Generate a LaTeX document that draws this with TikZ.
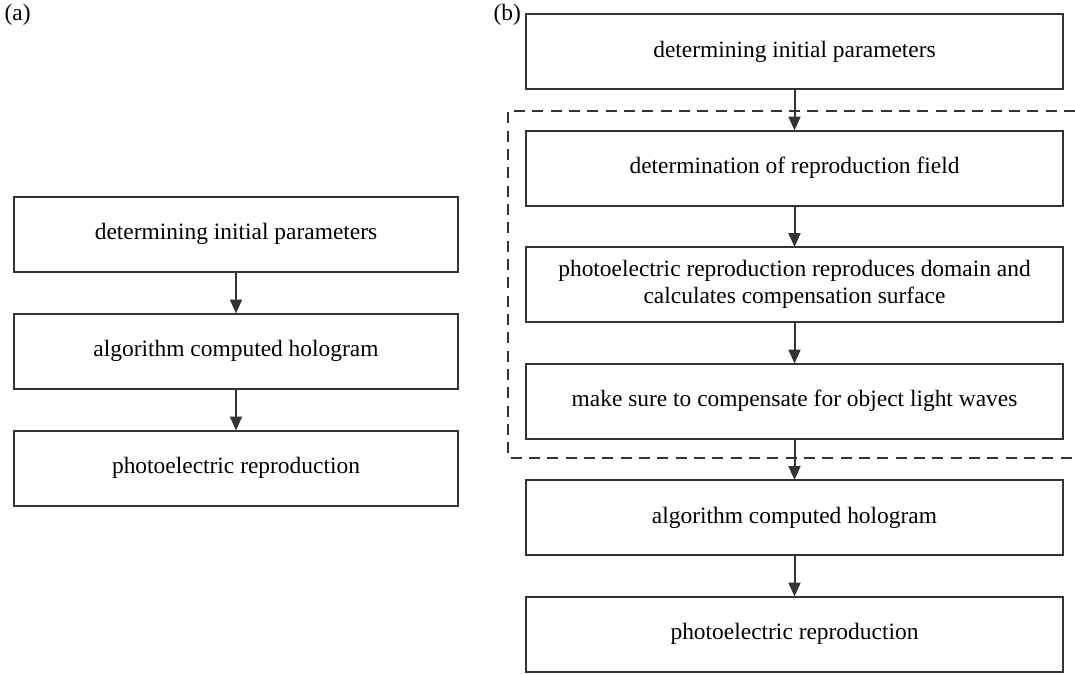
\documentclass[tikz,border=0pt]{standalone}
\usepackage{fontspec}
\setmainfont{Liberation Serif}
\usepackage{xcolor}
\usepackage{tikz}
\usetikzlibrary{arrows.meta, positioning}
\definecolor{linegray}{HTML}{333333}

\begin{document}
\begin{tikzpicture}[x=0.03cm, y=-0.03cm, >={Triangle[length=0.42cm, width=0.36cm]},
    every node/.style={font=\fontsize{20}{22.5}\selectfont, text=black},
    boxA/.style={draw=linegray, line width=0.06cm, minimum width=13.32cm, minimum height=2.25cm, outer sep=0pt},
    boxB/.style={draw=linegray, line width=0.06cm, minimum width=16.11cm, minimum height=2.25cm, outer sep=0pt, align=center},
    flow/.style={->, draw=linegray, line width=0.06cm}]
        \useasboundingbox (0,0) rectangle (1075,674);
        % (a) plain procedure
        \node[anchor=north west, inner sep=2pt] (labA) at (2,2) {(a)};
        \node[boxA] (initA) at (236,234) {determining initial parameters};
        \node[boxA, below=1.26cm of initA] (holoA) {algorithm computed hologram};
        \node[boxA, below=1.26cm of holoA] (reproA) {photoelectric reproduction};
        \draw[flow] (initA) -- (holoA);
        \draw[flow] (holoA) -- (reproA);
        % (b) with compensation steps
        \node[anchor=north west, inner sep=2pt] (labB) at (491,2) {(b)};
        \node[boxB] (initB) at (794.5,51.5) {determining initial parameters};
        \node[boxB, below=1.245cm of initB] (fieldB) {determination of reproduction field};
        \node[boxB, below=1.245cm of fieldB] (surfB) {photoelectric reproduction reproduces domain and\\calculates compensation surface};
        \node[boxB, below=1.245cm of surfB] (compB) {make sure to compensate for object light waves};
        \node[boxB, below=1.245cm of compB] (holoB) {algorithm computed hologram};
        \node[boxB, below=1.245cm of holoB] (reproB) {photoelectric reproduction};
        \foreach \s/\t in {initB/fieldB, fieldB/surfB, surfB/compB, compB/holoB, holoB/reproB} {
            \draw[flow] (\s) -- (\t);
        }
        % dashed frame, open at the right edge
        \draw[linegray, line width=0.06cm, dash pattern=on 0.33cm off 0.22cm]
            (1075,111) -- (508,111) -- (508,458) -- (1075,458);
    \end{tikzpicture}
\end{document}
